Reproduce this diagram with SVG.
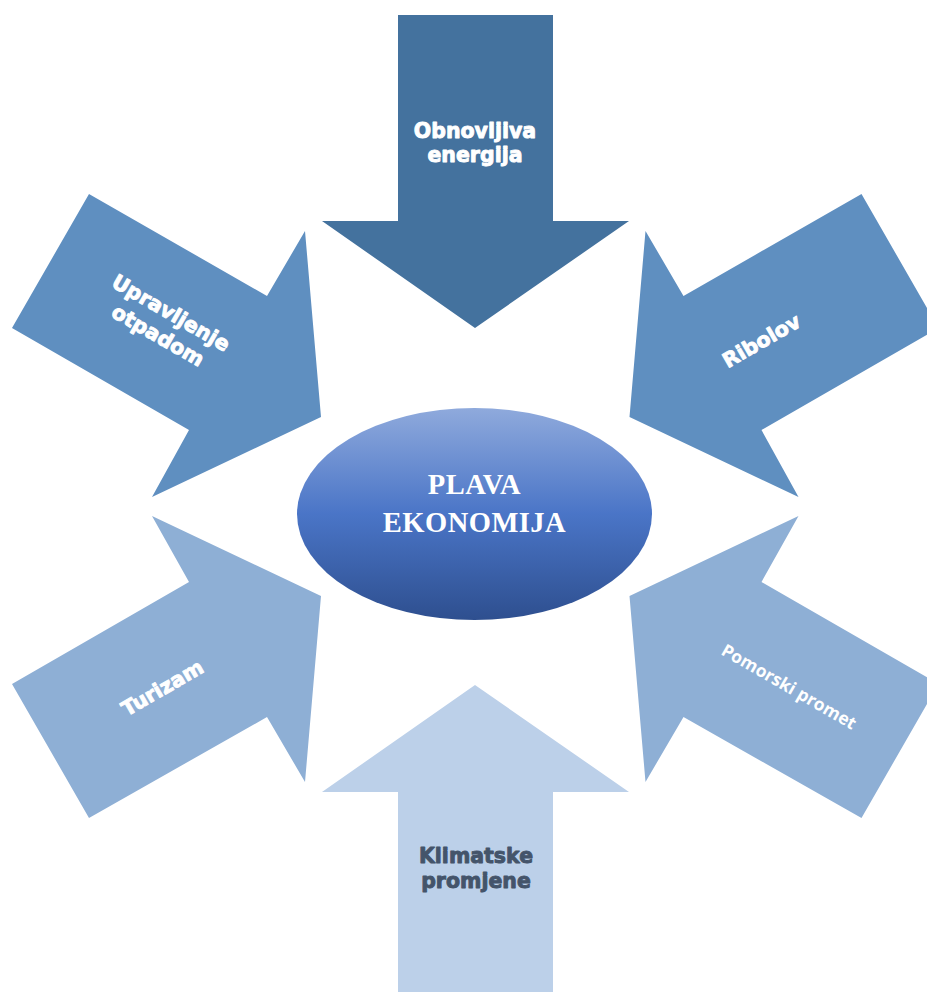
<svg xmlns="http://www.w3.org/2000/svg" width="927" height="992" viewBox="0 0 927 992">
<defs>
<linearGradient id="eg" x1="0" y1="0" x2="0" y2="1">
<stop offset="0" stop-color="#8FAADC"/>
<stop offset="0.5" stop-color="#4A75C7"/>
<stop offset="1" stop-color="#2E4F8F"/>
</linearGradient>
<style>
.lbl{font-family:"DejaVu Sans",sans-serif;font-weight:bold;font-size:20.5px;fill:#fff;stroke:#fff;stroke-width:0.9px;stroke-linejoin:round;text-anchor:middle}
.dark{fill:#44546A;stroke:#44546A}
.sub{font-family:"Open Sans","Noto Sans",sans-serif;font-weight:700;font-size:17.5px;fill:#fff;text-anchor:middle}
.ttl{font-family:"Liberation Serif",serif;font-weight:bold;font-size:28.5px;fill:#fff;text-anchor:middle;letter-spacing:0.5px}
</style>
</defs>
<rect width="927" height="992" fill="#fff"/>
<g id="obnovljiva">
<polygon points="398,15 553,15 553,221 629,221 475,328 322,221 398,221" fill="#44729E"/>
<text class="lbl" x="475" y="138">Obnovljiva</text>
<text class="lbl" x="475" y="162">energija</text>
</g>
<g id="upravljenje">
<polygon points="12,328 89,194 267,296 305,231 321,417 152,497 189,430" fill="#5F8FC0"/>
<g transform="translate(163.5,326) rotate(30)">
<text class="lbl" x="0" y="-8">Upravljenje</text>
<text class="lbl" x="0" y="18">otpadom</text>
</g>
</g>
<g id="ribolov">
<polygon points="938.5,328 861.5,194 683.5,296 645.5,231 629.5,417 798.5,497 761.5,430" fill="#5F8FC0"/>
<text class="lbl" transform="translate(765,347) rotate(-30)">Ribolov</text>
</g>
<g id="turizam">
<polygon points="12,684 189,582 152,516 321,596 305,782 267,717 89,818" fill="#8EAFD5"/>
<text class="lbl" transform="translate(166,694) rotate(-30)">Turizam</text>
</g>
<g id="pomorski">
<polygon points="938.5,684 761.5,582 798.5,516 629.5,596 645.5,782 683.5,717 861.5,818" fill="#8EAFD5"/>
<text class="sub" transform="translate(786,692) rotate(30)">Pomorski promet</text>
</g>
<g id="klimatske">
<polygon points="398,992 553,992 553,792 629,792 475,685 322,792 398,792" fill="#BCD0E9"/>
<text class="lbl dark" x="476" y="863">Klimatske</text>
<text class="lbl dark" x="476" y="888">promjene</text>
</g>
<g id="plava">
<ellipse cx="474.5" cy="514" rx="177.5" ry="106" fill="url(#eg)"/>
<text class="ttl" x="474.5" y="494">PLAVA</text>
<text class="ttl" x="474.5" y="532">EKONOMIJA</text>
</g>
<g id="connectors"/>
</svg>
